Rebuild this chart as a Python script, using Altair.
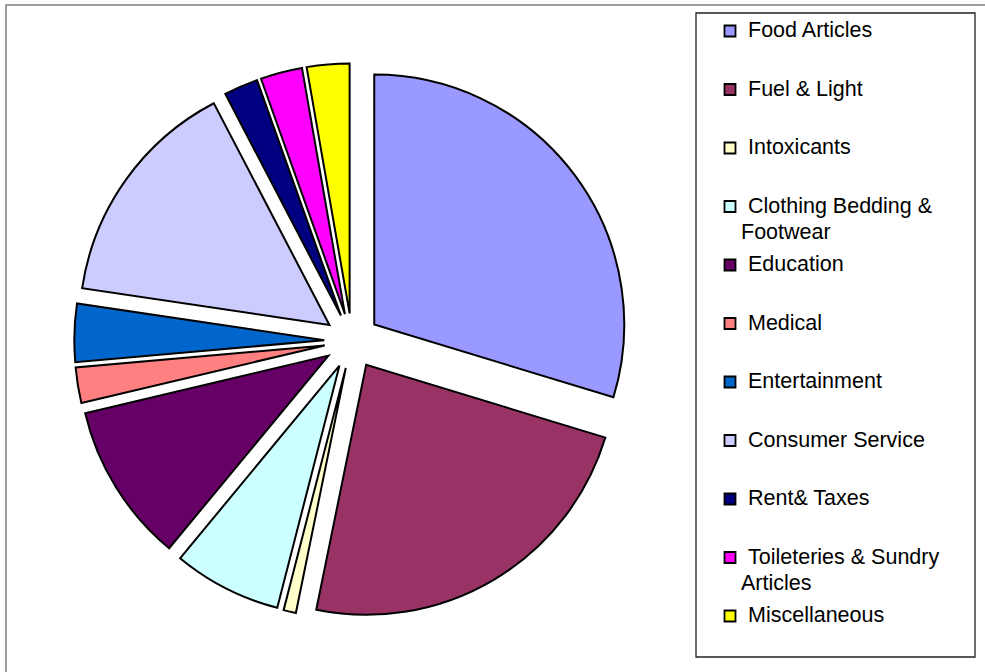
import altair as alt
import pandas as pd

categories = ["Food Articles", "Fuel & Light", "Intoxicants", "Clothing Bedding & Footwear",
              "Education", "Medical", "Entertainment", "Consumer Service", "Rent& Taxes",
              "Toileteries & Sundry Articles", "Miscellaneous"]
values = [29.7, 23.5, 0.8, 7.0, 10.3, 2.3, 3.75, 15.0, 2.2, 2.7, 2.75]
colors = ["#9999FF", "#993366", "#FFFFCC", "#CCFFFF", "#660066", "#FF8080",
          "#0066CC", "#CCCCFF", "#000080", "#FF00FF", "#FFFF00"]
label_line1 = ["Food Articles", "Fuel & Light", "Intoxicants", "Clothing Bedding &",
               "Education", "Medical", "Entertainment", "Consumer Service", "Rent& Taxes",
               "Toileteries & Sundry", "Miscellaneous"]
label_line2 = ["", "", "", "Footwear", "", "", "", "", "", "Articles", ""]

df = pd.DataFrame({
    "cat": categories,
    "value": values,
    "idx": list(range(len(categories))),
    "l1": label_line1,
    "l2": label_line2,
})

CX, CY, R, EXPLODE = 352, 341, 250, 27.7
color = alt.Color("cat:N", scale=alt.Scale(domain=categories, range=colors), legend=None)

one = alt.Data(values=[{}])

outer = alt.Chart(one).mark_rect(fill="white", stroke="#808080", strokeWidth=1.5).encode(
    x=alt.value(6), x2=alt.value(1000), y=alt.value(5), y2=alt.value(700))

legend_box = alt.Chart(one).mark_rect(fill="white", stroke="#222222", strokeWidth=1.3).encode(
    x=alt.value(696), x2=alt.value(975), y=alt.value(13), y2=alt.value(657))

pie = alt.Chart(df).transform_joinaggregate(
    total="sum(value)"
).transform_window(
    cum="sum(value)", sort=[alt.SortField("idx")]
).transform_calculate(
    t1="datum.cum / datum.total * 2 * PI",
    t0="(datum.cum - datum.value) / datum.total * 2 * PI",
).transform_calculate(
    mid="(datum.t0 + datum.t1) / 2"
).transform_calculate(
    px=f"{CX} + {EXPLODE} * sin(datum.mid)",
    py=f"{CY} - {EXPLODE} * cos(datum.mid)",
).mark_arc(radius=R, stroke="black", strokeWidth=2).encode(
    theta=alt.Theta("t0:Q", scale=None),
    theta2=alt.Theta2("t1"),
    x=alt.X("px:Q", scale=None, axis=None),
    y=alt.Y("py:Q", scale=None, axis=None),
    color=color,
)

legend_base = alt.Chart(df).transform_calculate(ly="31 + datum.idx * 58.5")

squares = legend_base.mark_square(size=121, stroke="black", strokeWidth=1.8, opacity=1).encode(
    x=alt.value(730),
    y=alt.Y("ly:Q", scale=None, axis=None),
    color=color,
)

text1 = legend_base.mark_text(align="left", baseline="middle", fontSize=21.5,
                              font="Liberation Sans", color="black").encode(
    x=alt.value(748),
    y=alt.Y("ly:Q", scale=None, axis=None),
    text="l1:N",
)

text2 = legend_base.transform_filter("datum.l2 != ''").transform_calculate(
    ly2="datum.ly + 26"
).mark_text(align="left", baseline="middle", fontSize=21.5,
            font="Liberation Sans", color="black").encode(
    x=alt.value(741),
    y=alt.Y("ly2:Q", scale=None, axis=None),
    text="l2:N",
)

chart = alt.layer(outer, legend_box, pie, squares, text1, text2).properties(
    width=985, height=672, padding=0, autosize="none", background="white"
).configure_view(strokeWidth=0)

chart.save("out.html", embed_options={"renderer": "svg", "actions": False})
